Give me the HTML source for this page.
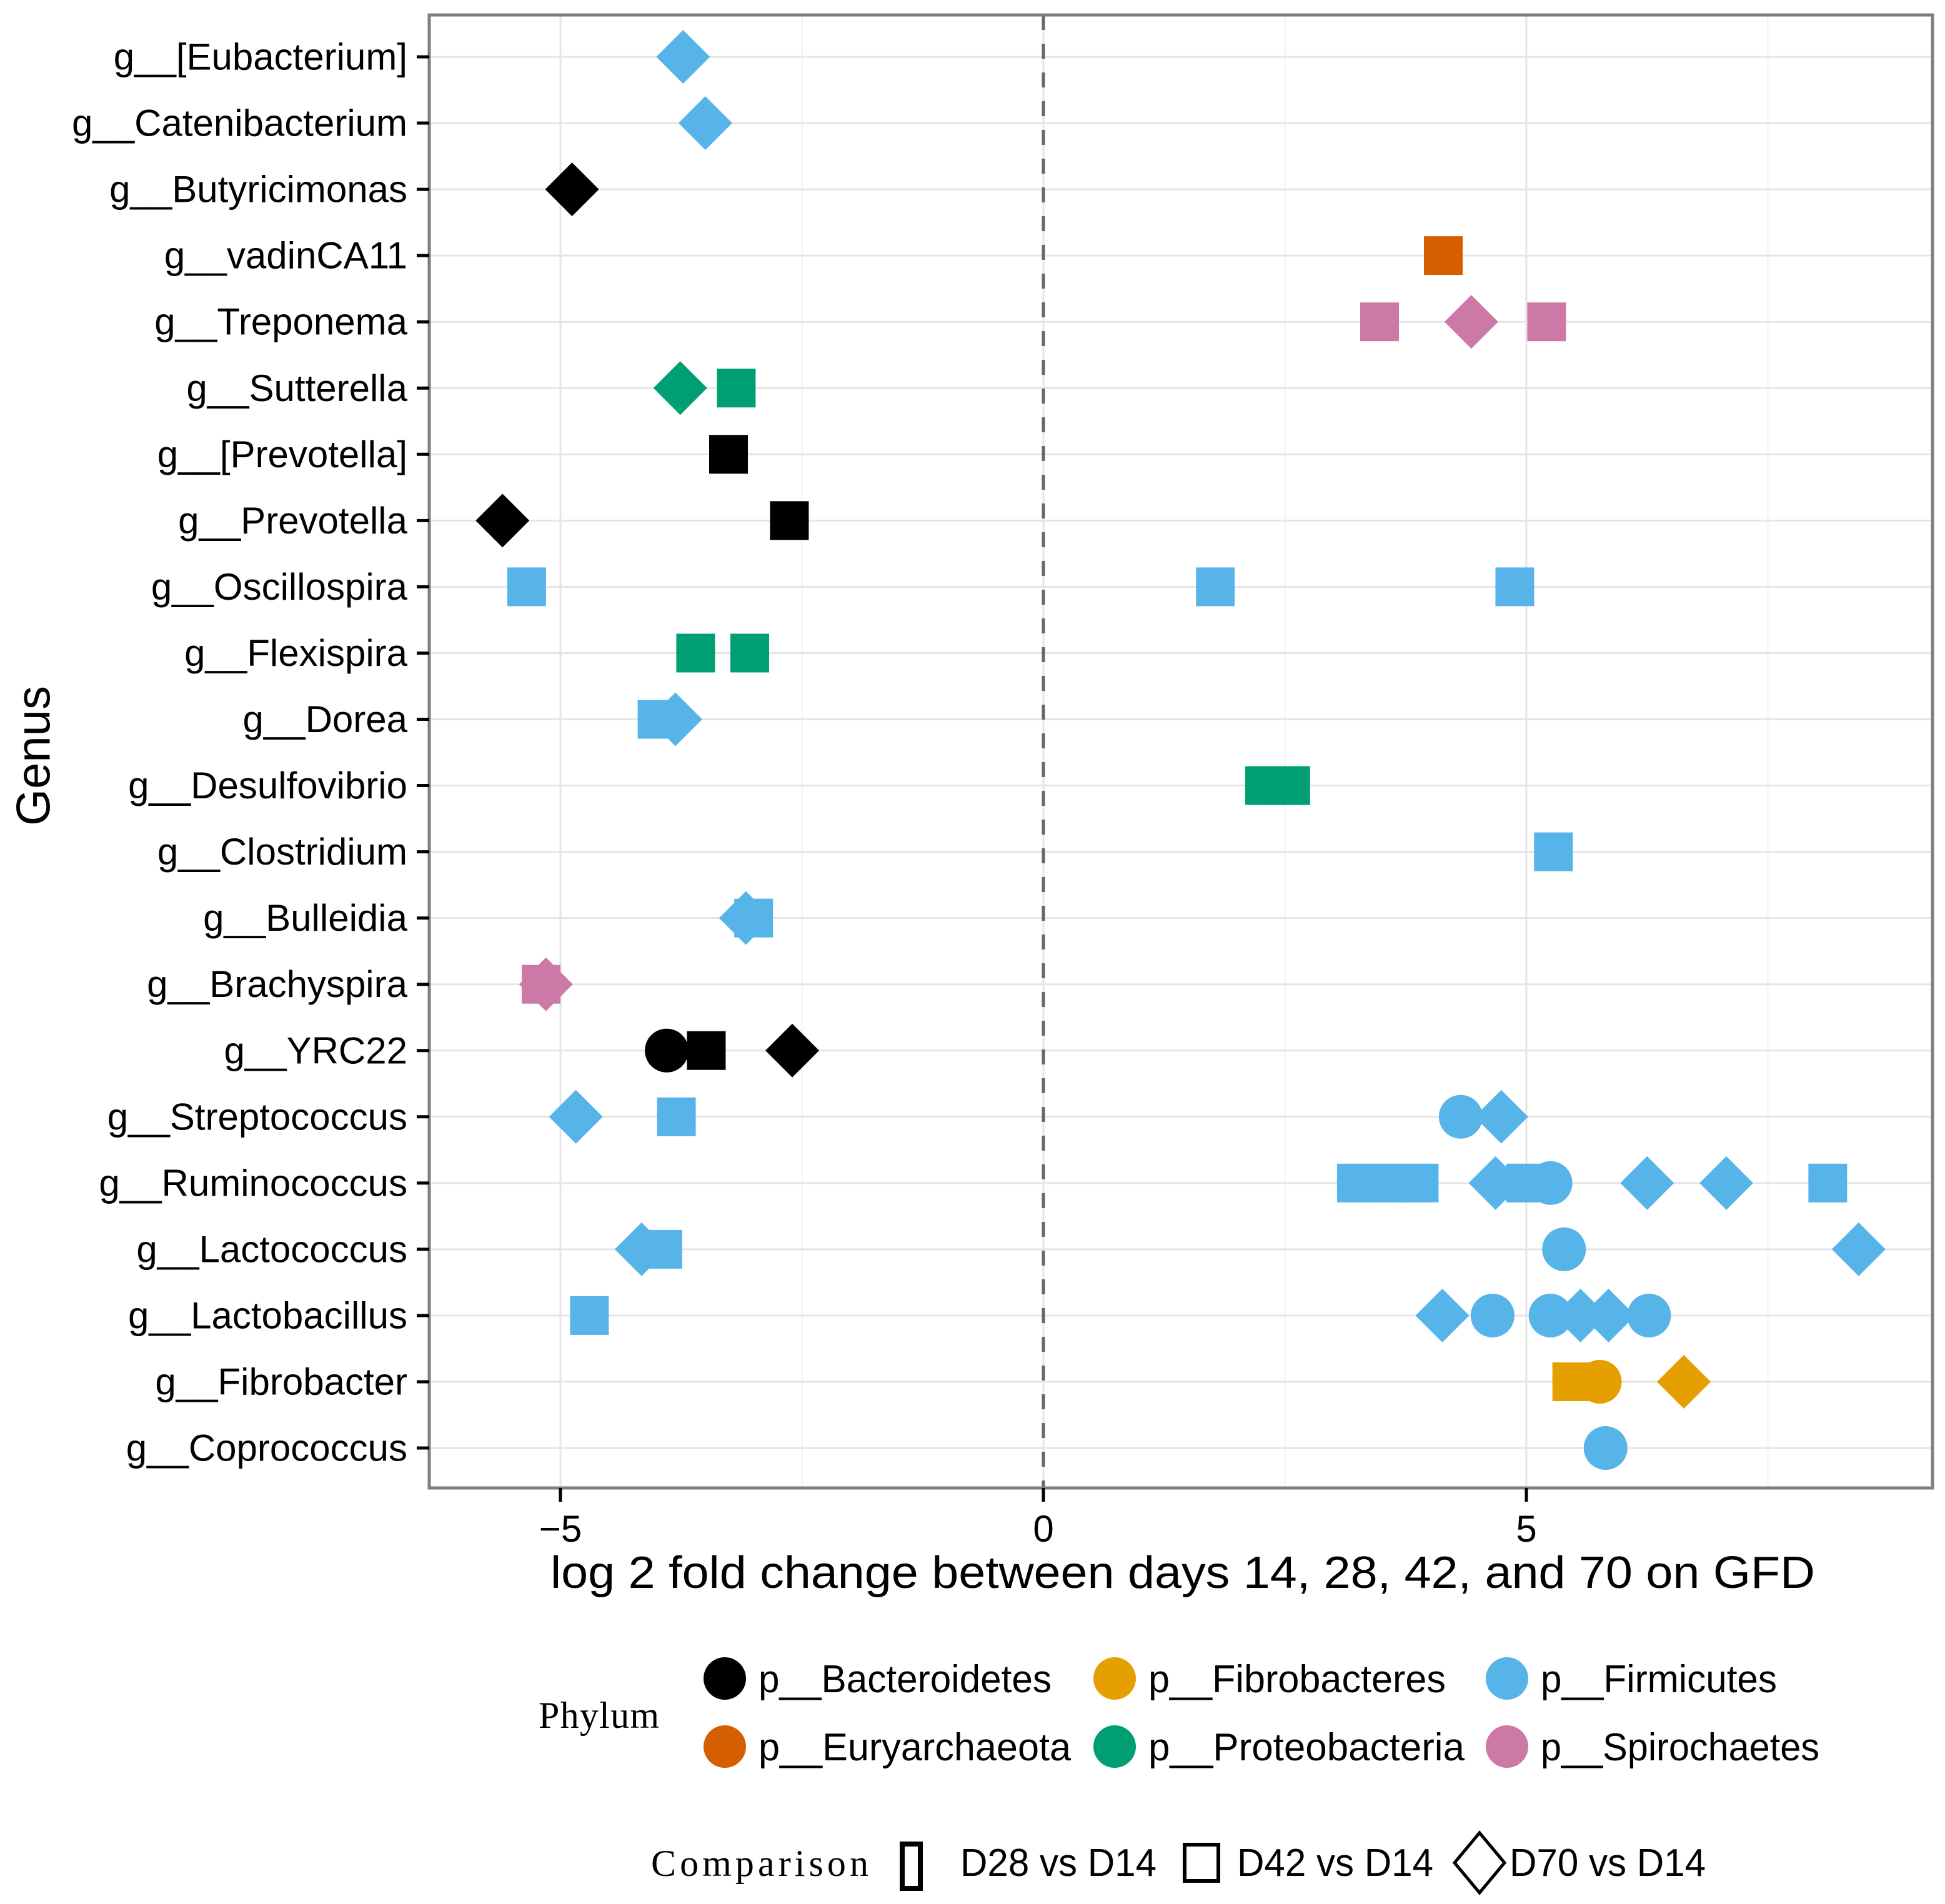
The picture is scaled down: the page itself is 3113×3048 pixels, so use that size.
<!DOCTYPE html>
<html><head><meta charset="utf-8"><style>
html,body{margin:0;padding:0;background:#fff;}
svg{display:block;font-family:"Liberation Sans",sans-serif;}
</style></head>
<body>
<svg id="chart" width="3113" height="3048" viewBox="0 0 3113 3048" xmlns="http://www.w3.org/2000/svg">
<rect width="3113" height="3048" fill="#fff"/>
<g id="grid"></g>
<g id="marks"></g>
<g id="axes"></g>
<text x="54" y="1210" font-size="76" text-anchor="middle" transform="rotate(-90 54 1210)" dominant-baseline="central">Genus</text>
<text x="1893" y="2542" font-size="72" text-anchor="middle" textLength="2024" lengthAdjust="spacingAndGlyphs">log 2 fold change between days 14, 28, 42, and 70 on GFD</text>
<g id="legend"></g>
</svg>
<script>
const genera = ["g__[Eubacterium]","g__Catenibacterium","g__Butyricimonas","g__vadinCA11","g__Treponema","g__Sutterella","g__[Prevotella]","g__Prevotella","g__Oscillospira","g__Flexispira","g__Dorea","g__Desulfovibrio","g__Clostridium","g__Bulleidia","g__Brachyspira","g__YRC22","g__Streptococcus","g__Ruminococcus","g__Lactococcus","g__Lactobacillus","g__Fibrobacter","g__Coprococcus"];
const xTicks = [-5, 0, 5];
const xTickLabels = ["\u22125", "0", "5"];
const phyla = ["p__Bacteroidetes","p__Euryarchaeota","p__Fibrobacteres","p__Proteobacteria","p__Firmicutes","p__Spirochaetes"];
const phylumColors = ["#000000","#D55E00","#E69F00","#009E73","#56B4E9","#CC79A7"];
const comparisons = ["D28 vs D14","D42 vs D14","D70 vs D14"];
// points: genus index, value, phylum index, comparison index (0 circle,1 square,2 diamond)
const pointGenus = [0,1,2,3,4,4,4,5,5,6,7,7,8,8,8,9,9,10,10,11,11,12,13,13,14,14,15,15,15,16,16,16,16,17,17,17,17,17,17,17,17,17,18,18,18,18,19,19,19,19,19,19,19,20,20,20,21];
const pointValue = [-3.73,-3.5,-4.88,4.14,3.48,4.43,5.21,-3.76,-3.18,-3.26,-5.6,-2.63,-5.35,1.78,4.88,-3.6,-3.04,-4.0,-3.81,2.29,2.56,5.28,-3.0,-3.08,-5.2,-5.15,-3.9,-3.49,-2.6,-4.84,-3.8,4.32,4.74,3.24,3.57,3.89,4.68,4.99,5.25,6.25,7.07,8.12,-3.94,-4.16,5.39,8.44,-4.7,4.13,4.65,5.25,5.56,5.85,6.27,5.47,5.76,6.63,5.82];
const pointPhylum = [4,4,0,1,5,5,5,3,3,0,0,0,4,4,4,3,3,4,4,3,3,4,4,4,5,5,0,0,0,4,4,4,4,4,4,4,4,4,4,4,4,4,4,4,4,4,4,4,4,4,4,4,4,2,2,2,4];
const pointShape = [2,2,2,1,1,2,1,2,1,1,2,1,1,1,1,1,1,1,2,1,1,1,1,2,1,2,0,1,2,2,1,0,2,1,1,1,2,1,0,2,2,1,1,2,0,2,1,2,0,0,2,2,0,1,0,2,0];

const NS = "http://www.w3.org/2000/svg";
const PL = 687, PR = 3093, PT = 24, PB = 2382;
const X0 = 1670, XU = 154.6;
const Y0 = 91, YS = 106.05;
function xs(v){ return X0 + XU * v; }
function ys(i){ return Y0 + YS * i; }
function mk(tag, attrs, parent){
  const e = document.createElementNS(NS, tag);
  for (const k in attrs) e.setAttribute(k, attrs[k]);
  parent.appendChild(e); return e;
}
const grid = document.getElementById('grid');
const marks = document.getElementById('marks');
const axes = document.getElementById('axes');
const legend = document.getElementById('legend');

[-2.5, 2.5, 7.5].forEach(v => {
  const l = mk('line', {x1: xs(v), x2: xs(v), y1: PT, y2: PB, stroke: '#f2f2f2', 'stroke-width': 2}, grid);
  
  
});
xTicks.forEach(v => {
  const l = mk('line', {x1: xs(v), x2: xs(v), y1: PT, y2: PB, stroke: '#e5e5e5', 'stroke-width': 3}, grid);
  
  
});
genera.forEach((g, i) => {
  const l = mk('line', {x1: PL, x2: PR, y1: ys(i), y2: ys(i), stroke: '#e5e5e5', 'stroke-width': 3}, grid);
  
  
});
const zl = mk('line', {x1: xs(0), x2: xs(0), y1: PT, y2: PB, stroke: '#666', 'stroke-width': 5, 'stroke-dasharray': '24 22'}, grid);



function drawShape(parent, shape, cx, cy, color){
  let e;
  if (shape === 0) e = mk('circle', {cx: cx, cy: cy, r: 35, fill: color}, parent);
  else if (shape === 1) e = mk('rect', {x: cx-31, y: cy-31, width: 62, height: 62, fill: color}, parent);
  else e = mk('polygon', {points: `${cx},${cy-43} ${cx+43},${cy} ${cx},${cy+43} ${cx-43},${cy}`, fill: color}, parent);
  return e;
}
for (let k = 0; k < pointValue.length; k++) {
  const e = drawShape(marks, pointShape[k], xs(pointValue[k]), ys(pointGenus[k]), phylumColors[pointPhylum[k]]);
  
  
}

const fr = mk('rect', {x: PL, y: PT, width: PR-PL, height: PB-PT, fill: 'none', stroke: '#7f7f7f', 'stroke-width': 5}, axes);


genera.forEach((g, i) => {
  const t = mk('line', {x1: PL-20, x2: PL, y1: ys(i), y2: ys(i), stroke: '#000', 'stroke-width': 5}, axes);
  
  
  const tx = mk('text', {x: 652, y: ys(i), 'font-size': 60, 'text-anchor': 'end', 'dominant-baseline': 'central'}, axes);
  tx.textContent = g;
  
  
});
xTicks.forEach((v, i) => {
  const t = mk('line', {x1: xs(v), x2: xs(v), y1: PB, y2: PB+22, stroke: '#000', 'stroke-width': 5}, axes);
  
  
  const tx = mk('text', {x: xs(v), y: PB+86, 'font-size': 60, 'text-anchor': 'middle'}, axes);
  tx.textContent = xTickLabels[i];
  
  
});

const pt = mk('text', {x: 862, y: 2766, 'font-size': 60, 'font-family': '"Liberation Serif", serif', textLength: 193, lengthAdjust: 'spacing'}, legend);
pt.textContent = 'Phylum';


const colX = [1160, 1784, 2412];
const rowY = [2687, 2796];
const order = [0,2,4,1,3,5];
const labelLen = [469, 476, 378, 500, 506, 446];
order.forEach((p, j) => {
  const cx = colX[j % 3], cy = rowY[Math.floor(j / 3)];
  const c = mk('circle', {cx: cx, cy: cy, r: 34, fill: phylumColors[p]}, legend);
  
  
  const t = mk('text', {x: cx+54, y: cy+22, 'font-size': 62, textLength: labelLen[j], lengthAdjust: 'spacingAndGlyphs'}, legend);
  t.textContent = phyla[p];
  
  
});
const ct = mk('text', {x: 1042, y: 3003, 'font-size': 60, 'font-family': '"Liberation Serif", serif', textLength: 348, lengthAdjust: 'spacing'}, legend);
ct.textContent = 'Comparison';


const k1 = mk('rect', {x: 1444, y: 2952, width: 29, height: 71, fill: 'none', stroke: '#000', 'stroke-width': 8}, legend);


const k2 = mk('rect', {x: 1896, y: 2953, width: 54, height: 58, fill: 'none', stroke: '#000', 'stroke-width': 6}, legend);


const k3 = mk('polygon', {points: '2368,2934 2408,2982 2368,3030 2328,2982', fill: 'none', stroke: '#000', 'stroke-width': 5}, legend);


const cX = [1537, 1980, 2416];
comparisons.forEach((c, i) => {
  const t = mk('text', {x: cX[i], y: 3003, 'font-size': 62, textLength: 314, lengthAdjust: 'spacingAndGlyphs'}, legend);
  t.textContent = c;
  
  
});
</script>
</body></html>
